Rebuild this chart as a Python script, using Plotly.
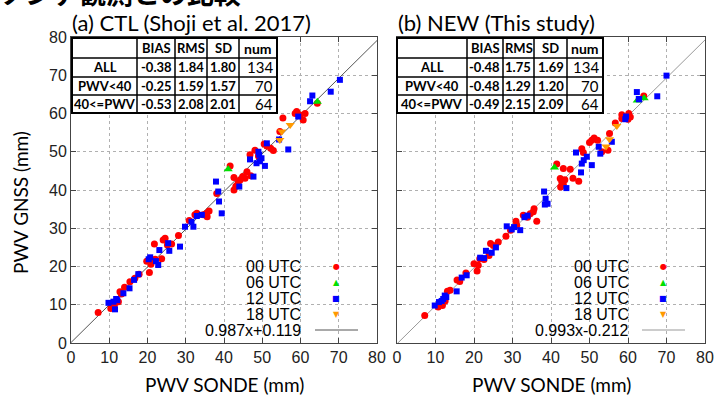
import plotly.graph_objects as go

W, H = 716, 396

# ---------------- data ----------------
panel_titles = ["(a) CTL (Shoji et al. 2017)", "(b) NEW (This study)"]
fit_labels = ["0.987x+0.119", "0.993x-0.212"]
fit_slope = [0.987, 0.993]
fit_icpt = [0.119, -0.212]
time_labels = ["00 UTC", "06 UTC", "12 UTC", "18 UTC"]
time_colors = ["#ff0000", "#00e000", "#0000ff", "#ff9900"]
time_symbols = ["circle", "triangle-up", "square", "triangle-down"]
time_glyphs = ["●", "▲", "■", "▼"]

table_header = ["", "BIAS", "RMS", "SD", "num"]
table_rows = ["ALL", "PWV<40", "40<=PWV"]
table_a = [["-0.38", "1.84", "1.80", "134"],
           ["-0.25", "1.59", "1.57", "70"],
           ["-0.53", "2.08", "2.01", "64"]]
table_b = [["-0.48", "1.75", "1.69", "134"],
           ["-0.48", "1.29", "1.20", "70"],
           ["-0.49", "2.15", "2.09", "64"]]

# (a) CTL
a00_x = [7.1, 10.6, 11.3, 11.5, 12.4, 12.8, 14.0, 15.4, 16.7, 17.8, 20.5, 19.8, 21.1, 22.0, 23.7, 21.8, 24.1,
         24.6, 25.2, 26.3, 28.1, 30.9, 32.4, 32.9, 34.6, 35.5, 35.6, 36.1, 38.1, 41.6, 42.6, 42.6, 43.1, 43.7,
         44.2, 44.9, 45.5, 46.0, 47.0, 46.8, 48.1, 49.0, 50.5, 51.2, 52.2, 52.9, 54.6, 55.4, 58.6, 59.9, 60.7,
         61.2, 59.0, 64.4, 10.4, 13.2, 20.9]
a00_y = [8.0, 9.3, 9.8, 10.5, 10.8, 13.4, 14.6, 16.0, 16.9, 18.0, 18.4, 21.4, 21.5, 21.9, 22.0, 25.9, 26.9,
         27.4, 25.6, 25.9, 28.1, 32.0, 33.5, 33.9, 33.5, 33.9, 33.0, 34.5, 39.1, 46.3, 43.3, 40.0, 41.0, 41.9,
         42.6, 43.5, 43.1, 44.8, 43.7, 49.2, 50.4, 48.9, 52.0, 51.5, 50.9, 50.3, 55.3, 58.8, 60.0, 59.6, 58.3,
         60.0, 60.5, 62.7, 9.0, 12.8, 20.6]
a06_x = [41.1, 64.4]
a06_y = [45.4, 63.1]
a12_x = [9.8, 11.1, 11.5, 12.1, 11.8, 13.7, 15.3, 16.5, 17.6, 20.7, 20.3, 22.2, 22.8, 23.1, 25.4, 25.7, 28.5,
         29.8, 31.5, 32.0, 32.9, 34.2, 37.9, 38.5, 38.7, 39.4, 44.0, 46.8, 47.7, 48.5, 49.0, 49.2, 49.8, 50.7,
         49.4, 51.2, 54.4, 56.8, 59.4, 62.5, 63.1, 67.9, 70.3]
a12_y = [10.5, 10.8, 8.8, 11.2, 11.5, 13.0, 14.3, 16.5, 18.0, 22.4, 21.9, 21.4, 20.4, 24.3, 26.1, 24.1, 25.2,
         30.4, 31.7, 30.4, 33.2, 33.5, 42.2, 39.6, 37.0, 33.9, 40.9, 48.0, 43.5, 47.0, 50.0, 49.2, 48.3, 46.3,
         47.5, 52.2, 53.2, 50.6, 59.2, 63.2, 64.7, 65.7, 68.8]
a18_x = [57.3, 55.1, 54.6]
a18_y = [57.0, 55.3, 53.1]

# (b) NEW
b00_x = [7.2, 10.7, 11.8, 12.5, 13.1, 13.8, 15.6, 16.3, 17.9, 20.0, 20.8, 21.1, 21.5, 22.6, 23.9, 24.3, 25.0,
         26.3, 28.3, 29.5, 31.1, 30.9, 32.8, 33.9, 34.6, 35.4, 35.6, 36.3, 41.5, 43.2, 45.0, 45.7, 47.2, 42.4,
         42.8, 42.5, 43.2, 43.6, 48.0, 48.4, 50.0, 50.6, 51.2, 52.1, 53.2, 55.2, 54.8, 56.7, 58.4, 60.2, 60.6,
         60.0, 58.4, 64.1]
b00_y = [7.2, 9.4, 9.8, 11.0, 13.5, 13.8, 16.5, 16.1, 18.3, 20.7, 18.8, 20.3, 22.0, 21.8, 22.9, 26.0, 25.5,
         26.4, 27.9, 29.5, 30.8, 31.8, 33.4, 32.9, 33.8, 34.3, 35.1, 31.8, 46.8, 45.6, 45.4, 43.1, 42.3, 43.0,
         42.1, 40.8, 41.5, 42.7, 50.8, 49.8, 52.4, 53.0, 53.6, 53.0, 50.0, 54.8, 50.4, 57.5, 58.7, 60.0, 59.1,
         58.5, 59.7, 64.6]
b06_x = [40.9, 62.4, 64.2]
b06_y = [45.9, 63.4, 64.0]
b12_x = [9.8, 10.9, 11.6, 12.0, 12.4, 12.8, 15.5, 16.8, 18.1, 21.6, 22.6, 23.1, 24.6, 25.7, 28.5, 29.8, 30.4,
         32.0, 33.1, 33.9, 38.2, 38.6, 39.1, 38.4, 44.0, 46.5, 47.8, 48.0, 48.5, 49.3, 50.6, 52.4, 52.8, 55.8,
         59.3, 62.8, 62.3, 67.6, 62.9, 70.0, 59.5]
b12_y = [9.8, 10.7, 11.0, 11.5, 12.4, 12.0, 13.5, 17.1, 17.7, 22.3, 22.2, 24.1, 23.6, 25.0, 30.5, 29.7, 30.3,
         29.5, 32.9, 33.3, 39.6, 37.7, 36.4, 36.2, 40.5, 49.8, 44.6, 46.9, 47.8, 48.7, 46.5, 51.3, 49.5, 52.6,
         58.5, 63.8, 65.6, 64.5, 63.7, 69.9, 59.2]
b18_x = [57.1, 55.2, 54.3]
b18_y = [56.7, 53.3, 51.4]

axis_ticks = [0, 10, 20, 30, 40, 50, 60, 70, 80]

panels = [
    dict(data=[(a00_x, a00_y), (a06_x, a06_y), (a12_x, a12_y), (a18_x, a18_y)], table=table_a),
    dict(data=[(b00_x, b00_y), (b06_x, b06_y), (b12_x, b12_y), (b18_x, b18_y)], table=table_b),
]

# ---------------- layout geometry (pixels) ----------------
def px(x):
    return x / W

def py(y):
    return 1 - y / H

plot_x = [(71, 377), (397, 705)]
plot_y = (37, 343)
tbl_cols = [[72, 137, 175, 207, 239, 277], [397, 467, 503, 534, 567, 603]]
tbl_rows = [38, 58, 77, 95, 113]
leg_text_right = [303, 631]
leg_marker_x = [336, 663]
leg_line = [(315, 358), (642, 685)]
leg_rows = [266, 282, 298, 314, 330]
leg_box = [(205, 250), (533, 250)]
line_colors = ["#555555", "#999999"]

fig = go.Figure()
shapes = []
annotations = []

for p, panel in enumerate(panels):
    xa = "x" if p == 0 else "x2"
    ya = "y" if p == 0 else "y2"
    # fit line
    fx = [0, 80]
    fy = [fit_slope[p] * v + fit_icpt[p] for v in fx]
    fig.add_trace(go.Scatter(x=fx, y=fy, mode="lines", xaxis=xa, yaxis=ya,
                             line=dict(color=line_colors[p], width=1), showlegend=False,
                             hoverinfo="skip"))
    for k, (xs, ys) in enumerate(panel["data"]):
        size = 7 if time_symbols[k] != "square" else 6
        if "triangle" in time_symbols[k]:
            size = 8
        fig.add_trace(go.Scatter(x=xs, y=ys, mode="markers", xaxis=xa, yaxis=ya,
                                 marker=dict(color=time_colors[k], symbol=time_symbols[k], size=size,
                                             line=dict(width=0)),
                                 name=time_labels[k], showlegend=False))

    # title
    annotations.append(dict(text=panel_titles[p], xref="paper", yref="paper",
                            x=px(plot_x[p][0] - 1), y=py(23), xanchor="left", yanchor="middle",
                            showarrow=False, font=dict(family="Lato", size=22, color="black")))
    # x axis title
    annotations.append(dict(text="PWV SONDE (mm)", xref="paper", yref="paper",
                            x=px((plot_x[p][0] + plot_x[p][1]) / 2), y=py(384), xanchor="center",
                            yanchor="middle", showarrow=False,
                            font=dict(family="Lato", size=19, color="black")))

    # legend background box
    shapes.append(dict(type="rect", xref="paper", yref="paper", layer="between",
                       x0=px(leg_box[p][0]), x1=px(plot_x[p][1] - 1), y0=py(plot_y[1] - 1),
                       y1=py(leg_box[p][1] + 6), fillcolor="white", line=dict(width=0)))
    for k in range(4):
        annotations.append(dict(text=time_labels[k], xref="paper", yref="paper",
                                x=px(leg_text_right[p]), y=py(leg_rows[k]), xanchor="right",
                                yanchor="middle", showarrow=False,
                                font=dict(family="Liberation Sans", size=16, color="black")))
        annotations.append(dict(text=time_glyphs[k], xref="paper", yref="paper",
                                x=px(leg_marker_x[p]), y=py(leg_rows[k]), xanchor="center",
                                yanchor="middle", showarrow=False,
                                font=dict(family="DejaVu Sans", size=8, color=time_colors[k])))
    annotations.append(dict(text=fit_labels[p], xref="paper", yref="paper",
                            x=px(leg_text_right[p]), y=py(leg_rows[4]), xanchor="right",
                            yanchor="middle", showarrow=False,
                            font=dict(family="Liberation Sans", size=16, color="black")))
    shapes.append(dict(type="line", xref="paper", yref="paper", layer="above",
                       x0=px(leg_line[p][0]), x1=px(leg_line[p][1]), y0=py(leg_rows[4]),
                       y1=py(leg_rows[4]), line=dict(color=line_colors[p], width=1)))

    # table
    cols = tbl_cols[p]
    shapes.append(dict(type="rect", xref="paper", yref="paper", layer="above",
                       x0=px(cols[0]), x1=px(cols[-1]), y0=py(tbl_rows[-1]), y1=py(tbl_rows[0]),
                       fillcolor="white", line=dict(color="black", width=2)))
    for c in cols[1:-1]:
        shapes.append(dict(type="line", xref="paper", yref="paper", layer="above",
                           x0=px(c), x1=px(c), y0=py(tbl_rows[-1]), y1=py(tbl_rows[0]),
                           line=dict(color="black", width=1.5)))
    for r in tbl_rows[1:-1]:
        shapes.append(dict(type="line", xref="paper", yref="paper", layer="above",
                           x0=px(cols[0]), x1=px(cols[-1]), y0=py(r), y1=py(r),
                           line=dict(color="black", width=1.5)))
    tfont = dict(family="Lato", size=13, color="black")
    for j, htxt in enumerate(table_header):
        if not htxt:
            continue
        annotations.append(dict(text="<b>%s</b>" % htxt, xref="paper", yref="paper",
                                x=px((cols[j] + cols[j + 1]) / 2), y=py((tbl_rows[0] + tbl_rows[1]) / 2),
                                xanchor="center", yanchor="middle", showarrow=False,
                                font=dict(family="Lato", size=14 if htxt == "num" else 13,
                                          color="black")))
    tbl = panel["table"]
    for i, rname in enumerate(table_rows):
        yc = py((tbl_rows[i + 1] + tbl_rows[i + 2]) / 2)
        annotations.append(dict(text="<b>%s</b>" % rname, xref="paper", yref="paper",
                                x=px((cols[0] + cols[1]) / 2), y=yc, xanchor="center",
                                yanchor="middle", showarrow=False, font=tfont))
        for j, v in enumerate(tbl[i]):
            if j < 3:
                annotations.append(dict(text="<b>%s</b>" % v, xref="paper", yref="paper",
                                        x=px(cols[j + 2] - 1), y=yc, xanchor="right",
                                        yanchor="middle", showarrow=False, font=tfont))
            else:
                annotations.append(dict(text=v, xref="paper", yref="paper",
                                        x=px(cols[j + 2] - 2), y=yc, xanchor="right",
                                        yanchor="middle", showarrow=False,
                                        font=dict(family="Lato", size=15, color="black")))

# y axis title
annotations.append(dict(text="PWV GNSS (mm)", xref="paper", yref="paper", x=px(20), y=py(203),
                        xanchor="center", yanchor="middle", textangle=-90, showarrow=False,
                        font=dict(family="Lato", size=19, color="black")))
# clipped heading at top
annotations.append(dict(text="<b>ゾンデ観測との比較</b>", xref="paper", yref="paper", x=px(-4), y=py(-7),
                        xanchor="left", yanchor="middle", showarrow=False,
                        font=dict(family="Noto Sans CJK JP", size=27, color="black")))

axis_common = dict(range=[0, 80], tickvals=axis_ticks, showgrid=True, gridcolor="#b0b0b0",
                   griddash="dot", gridwidth=1, showline=True, linecolor="#444444", linewidth=1,
                   mirror="ticks", ticks="inside", ticklen=5, tickcolor="#444444", zeroline=False,
                   automargin=False, tickfont=dict(family="Liberation Sans", size=16, color="#222222"),
                   fixedrange=True)

fig.update_layout(
    width=W, height=H, template="none",
    margin=dict(l=0, r=0, t=0, b=0),
    paper_bgcolor="white", plot_bgcolor="white",
    showlegend=False,
    xaxis=dict(domain=[px(plot_x[0][0]), px(plot_x[0][1])], anchor="y", **axis_common),
    yaxis=dict(domain=[py(plot_y[1]), py(plot_y[0])], anchor="x", **axis_common),
    xaxis2=dict(domain=[px(plot_x[1][0]), px(plot_x[1][1])], anchor="y2", **axis_common),
    yaxis2=dict(domain=[py(plot_y[1]), py(plot_y[0])], anchor="x2", showticklabels=False,
                **{k: v for k, v in axis_common.items()}),
    shapes=shapes,
    annotations=annotations,
)

fig.write_html("out.html", config={"displayModeBar": False},
               post_script="document.body.style.margin='0';document.body.style.overflow='hidden';")
